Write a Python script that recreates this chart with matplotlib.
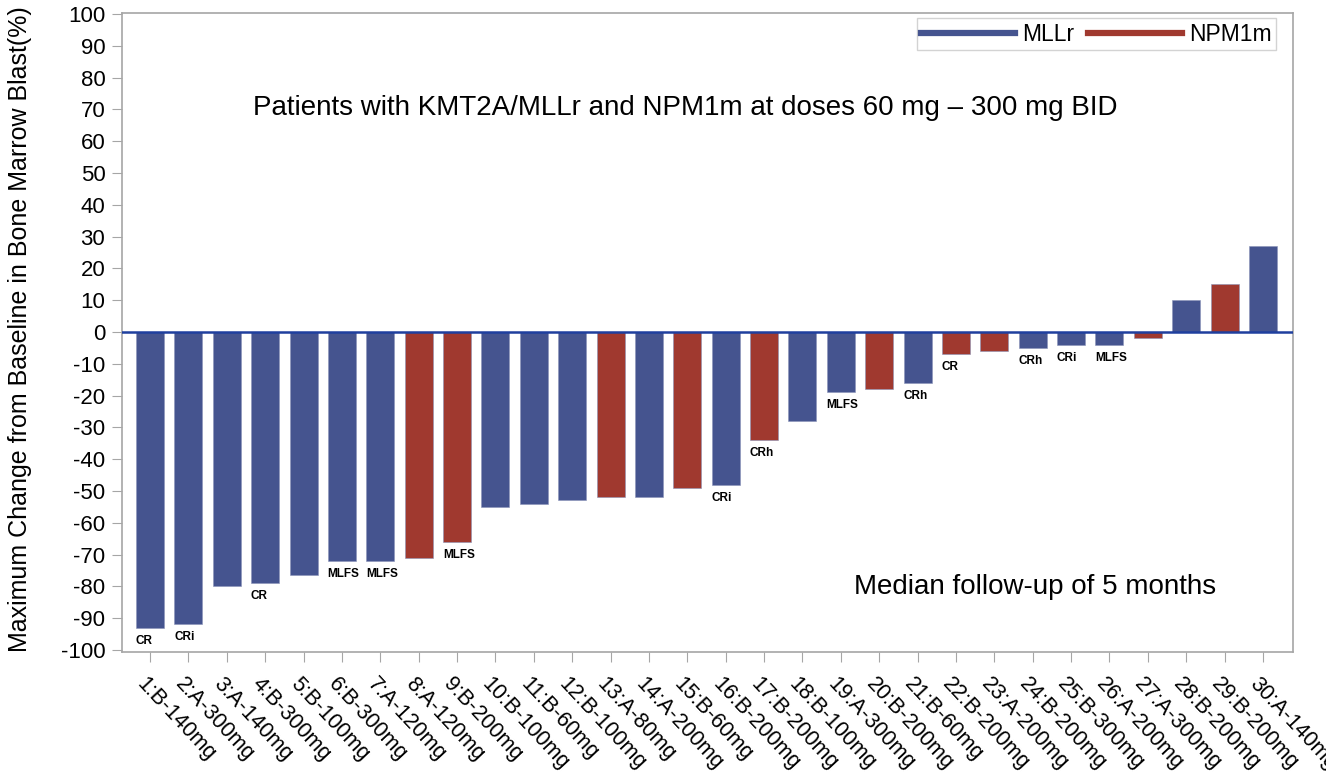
import matplotlib
matplotlib.use('Agg')
from matplotlib import pyplot as plt
from matplotlib.lines import Line2D
import matplotlib.transforms as mtransforms

plt.rcParams['font.family'] = ['Liberation Sans', 'DejaVu Sans']
plt.rcParams['axes.unicode_minus'] = False

# patient labels (order of the waterfall)
patients = ['1:B-140mg', '2:A-300mg', '3:A-140mg', '4:B-300mg', '5:B-100mg',
            '6:B-300mg', '7:A-120mg', '8:A-120mg', '9:B-200mg', '10:B-100mg',
            '11:B-60mg', '12:B-100mg', '13:A-80mg', '14:A-200mg', '15:B-60mg',
            '16:B-200mg', '17:B-200mg', '18:B-100mg', '19:A-300mg', '20:B-200mg',
            '21:B-60mg', '22:B-200mg', '23:A-200mg', '24:B-200mg', '25:B-300mg',
            '26:A-200mg', '27:A-300mg', '28:B-200mg', '29:B-200mg', '30:A-140mg']
change = [-93, -92, -80, -79, -76.5, -72, -72, -71, -66, -55,
          -54, -53, -52, -52, -49, -48, -34, -28, -19, -18,
          -16, -7, -6, -5, -4, -4, -2, 10, 15, 27]
group = ['MLLr'] * 7 + ['NPM1m'] * 2 + ['MLLr'] * 3 + ['NPM1m', 'MLLr', 'NPM1m', 'MLLr',
         'NPM1m', 'MLLr', 'MLLr', 'NPM1m', 'MLLr', 'NPM1m', 'NPM1m', 'MLLr', 'MLLr',
         'MLLr', 'NPM1m', 'MLLr', 'NPM1m', 'MLLr']
response = ['CR', 'CRi', '', 'CR', '', 'MLFS', 'MLFS', '', 'MLFS', '',
            '', '', '', '', '', 'CRi', 'CRh', '', 'MLFS', '',
            'CRh', 'CR', '', 'CRh', 'CRi', 'MLFS', '', '', '', '']

colors = {'MLLr': '#45548f', 'NPM1m': '#a0392f'}
grey = '#a6a6a6'

fig = plt.figure(figsize=(13.26, 7.75), dpi=100)
ax = fig.add_axes([0.092, 0.159, 0.883, 0.824])

xs = list(range(len(patients)))
ax.bar(xs, change, width=0.73, color=[colors[g] for g in group],
       edgecolor='#8a93b8', linewidth=0.4, zorder=2)
ax.axhline(0, color='#1f3f9e', linewidth=1.8, zorder=3)

for x, v, r in zip(xs, change, response):
    if r:
        ax.annotate(r, xy=(x - 0.37, v), xytext=(0, -5), textcoords='offset points',
                    ha='left', va='top', fontsize=8.5, fontweight='bold')

ax.set_xlim(-0.73, 29.78)
ax.set_ylim(-100.6, 100.3)
ax.set_yticks(range(-100, 101, 10))
ax.set_xticks(xs)
ax.set_xticklabels([])

# rotated patient labels, starting just left of / below each tick
trans = mtransforms.blended_transform_factory(ax.transData, ax.transAxes)
trans = trans + mtransforms.ScaledTranslation(-10 / 100, -29 / 100, fig.dpi_scale_trans)
for x, name in zip(xs, patients):
    ax.text(x, 0, name, transform=trans, rotation=-47, ha='left', va='center',
            rotation_mode='anchor', fontsize=15.5, clip_on=False)

ax.tick_params(axis='y', labelsize=16, length=7, color=grey, pad=5)
ax.tick_params(axis='x', length=7, color=grey)
for s in ax.spines.values():
    s.set_color(grey)
    s.set_linewidth(1.2)

ax.set_ylabel('Maximum Change from Baseline in Bone Marrow Blast(%)', fontsize=18)
ax.yaxis.set_label_coords(-0.077, 0.505)

ax.text(13.96, 70.4, 'Patients with KMT2A/MLLr and NPM1m at doses 60 mg \u2013 300 mg BID',
        ha='center', va='center', fontsize=20)
ax.text(23.07, -80.2, 'Median follow-up of 5 months', ha='center', va='center', fontsize=20)

handles = [Line2D([0], [0], color=colors['MLLr'], lw=4.5),
           Line2D([0], [0], color=colors['NPM1m'], lw=4.5)]
leg = ax.legend(handles, ['MLLr', 'NPM1m'], loc='upper right', ncol=2, fontsize=16.5,
                handlelength=4.1, handletextpad=0.3, columnspacing=0.6,
                fancybox=False, borderpad=0.2, borderaxespad=0,
                bbox_to_anchor=(0.9855, 0.992))
leg.get_frame().set_edgecolor('#c8c8c8')
leg.get_frame().set_linewidth(1)

fig.savefig('out.png', dpi=100)
